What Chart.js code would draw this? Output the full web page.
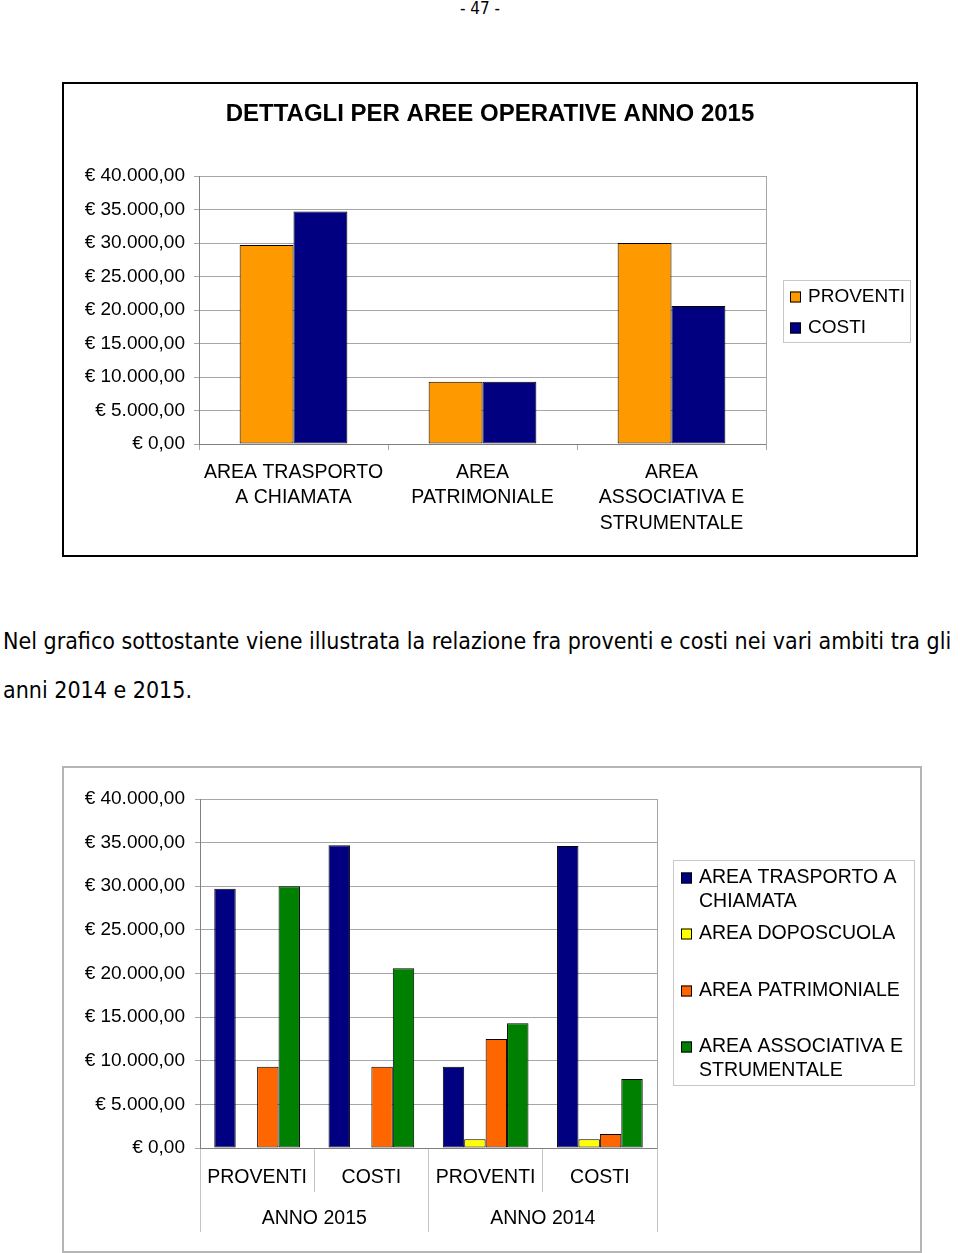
<!DOCTYPE html>
<html>
<head>
<meta charset="utf-8">
<script src="https://cdn.jsdelivr.net/npm/chart.js@4.4.1/dist/chart.umd.min.js"></script>
<style>
    body { margin: 0; width: 960px; height: 1253px; background: #fff; position: relative; overflow: hidden; }
    #pagina { position: absolute; top: -1px; left: 0; width: 960px; text-align: center; font-family: 'DejaVu Sans Condensed', 'DejaVu Sans', sans-serif; font-size: 17px; line-height: 18px; color: #000; }
    #box1 { position: absolute; left: 62px; top: 82px; width: 852px; height: 471px; border: 2px solid #000; }
    #box2 { position: absolute; left: 62px; top: 766px; width: 856px; height: 483px; border: 2px solid #b4b4b4; }
    .riga { position: absolute; left: 3px; white-space: nowrap; font-family: 'DejaVu Sans Condensed', 'DejaVu Sans', sans-serif; font-size: 22px; line-height: 26px; color: #000; }
</style>
</head>
<body>
<div id="pagina">- 47 -</div>

<div id="box1"><canvas id="grafico-aree"></canvas></div>

<div class="riga" id="riga1" style="top:628px">Nel grafico sottostante viene illustrata la relazione fra proventi e costi nei vari ambiti tra gli</div>
<div class="riga" id="riga2" style="top:677px">anni 2014 e 2015.</div>

<div id="box2"><canvas id="grafico-anni"></canvas></div>

<script>
// dati grafico 1
const aree = [['AREA TRASPORTO', 'A CHIAMATA'], ['AREA', 'PATRIMONIALE'], ['AREA', 'ASSOCIATIVA E', 'STRUMENTALE']]
const proventi2015 = [29700, 9300, 30000]
const costi2015 = [34700, 9300, 20600]

// dati grafico 2
const voci = ['PROVENTI', 'COSTI', 'PROVENTI', 'COSTI']
const anni = ['ANNO 2015', 'ANNO 2014']
const trasporto = [29700, 34700, 9300, 34600]
const doposcuola = [null, null, 1000, 1000]
const patrimoniale = [9300, 9300, 12500, 1600]
const associativa = [30000, 20600, 14300, 7900]

const yMax = 40000
const yStep = 5000

Chart.defaults.font.family = "'Liberation Sans', Arial, sans-serif"
Chart.defaults.font.size = 19
Chart.defaults.color = '#000'

function euro(v) {
    const parti = Number(v).toFixed(2).split('.')
    const intero = parti[0].replace(/\B(?=(\d{3})+(?!\d))/g, '.')
    return '€ ' + intero + ',' + parti[1]
}

function spezza(ctx, testo, larghezza) {
    const parole = testo.split(' ')
    const righe = []
    let corrente = ''
    parole.forEach(function (p) {
        const prova = corrente ? corrente + ' ' + p : p
        if (ctx.measureText(prova).width > larghezza && corrente) {
            righe.push(corrente)
            corrente = p
        } else {
            corrente = prova
        }
    })
    righe.push(corrente)
    return righe
}

// legenda disegnata dentro un riquadro grigio
const legendaBox = {
    id: 'legendaBox',
    afterDraw(chart, args, opts) {
        const ctx = chart.ctx
        ctx.save()
        ctx.strokeStyle = '#c8c8c8'
        ctx.lineWidth = 1
        ctx.strokeRect(opts.x + 0.5, opts.y + 0.5, opts.w, opts.h)
        ctx.font = opts.fontSize + "px 'Liberation Sans', Arial, sans-serif"
        ctx.textBaseline = 'middle'
        ctx.textAlign = 'left'
        chart.data.datasets.forEach(function (ds, i) {
            const y0 = opts.rows[i]
            const righe = spezza(ctx, ds.label, opts.wrap)
            ctx.fillStyle = ds.backgroundColor
            ctx.fillRect(opts.markerX, y0 - 5, 11, 11)
            ctx.strokeStyle = '#000'
            ctx.strokeRect(opts.markerX + 0.5, y0 - 4.5, 10, 10)
            ctx.fillStyle = '#000'
            righe.forEach(function (r, j) {
                ctx.fillText(r, opts.textX, y0 + j * opts.lineHeight)
            })
        })
        ctx.restore()
    }
}

new Chart(document.getElementById('grafico-aree'), {
    type: 'bar',
    data: {
        labels: aree,
        datasets: [
            {
                label: 'PROVENTI',
                data: proventi2015,
                backgroundColor: '#FF9900',
                borderColor: '#000',
                borderWidth: 1,
                borderSkipped: false
            },
            {
                label: 'COSTI',
                data: costi2015,
                backgroundColor: '#000080',
                borderColor: '#000',
                borderWidth: 1,
                borderSkipped: false
            }
        ]
    },
    options: {
        responsive: true,
        maintainAspectRatio: false,
        animation: false,
        categoryPercentage: 0.57,
        barPercentage: 1,
        layout: { padding: 0 },
        plugins: {
            legend: { display: false },
            tooltip: { enabled: false },
            title: {
                display: true,
                text: 'DETTAGLI PER AREE OPERATIVE ANNO 2015',
                color: '#000',
                font: { size: 24, weight: 'bold', lineHeight: 1.2 },
                padding: { top: 15.6, bottom: 47.6 }
            },
            legendaBox: { x: 719, y: 196, w: 127, h: 62, markerX: 726, textX: 744, rows: [212.5, 243.5], lineHeight: 24, wrap: 200, fontSize: 19 }
        },
        scales: {
            x: {
                offset: true,
                grid: { offset: true, drawOnChartArea: false, tickLength: 6, color: '#a6a6a6' },
                border: { color: '#808080' },
                ticks: { padding: 9.75, maxRotation: 0, autoSkip: false, font: { size: 19.5, lineHeight: 1.31 } },
                afterFit: function (scale) { scale.height = 111 }
            },
            y: {
                min: 0,
                max: yMax,
                ticks: { stepSize: yStep, padding: 9, callback: euro },
                grid: { color: '#a6a6a6', tickLength: 5 },
                border: { color: '#808080' },
                afterFit: function (scale) { scale.width = 135 }
            },
            y2: {
                position: 'right',
                ticks: { display: false },
                grid: { display: false },
                border: { color: '#a6a6a6' },
                afterFit: function (scale) { scale.width = 150 }
            }
        }
    },
    plugins: [legendaBox]
});

new Chart(document.getElementById('grafico-anni'), {
    type: 'bar',
    data: {
        labels: voci,
        datasets: [
            {
                label: 'AREA TRASPORTO A CHIAMATA',
                data: trasporto,
                backgroundColor: '#000080',
                borderColor: '#000',
                borderWidth: 1,
                borderSkipped: false,
                xAxisID: 'x'
            },
            {
                label: 'AREA DOPOSCUOLA',
                data: doposcuola,
                backgroundColor: '#FFFF00',
                borderColor: '#000',
                borderWidth: 1,
                borderSkipped: false,
                xAxisID: 'x'
            },
            {
                label: 'AREA PATRIMONIALE',
                data: patrimoniale,
                backgroundColor: '#FF6600',
                borderColor: '#000',
                borderWidth: 1,
                borderSkipped: false,
                xAxisID: 'x'
            },
            {
                label: 'AREA ASSOCIATIVA E STRUMENTALE',
                data: associativa,
                backgroundColor: '#008000',
                borderColor: '#000',
                borderWidth: 1,
                borderSkipped: false,
                xAxisID: 'x'
            }
        ]
    },
    options: {
        responsive: true,
        maintainAspectRatio: false,
        animation: false,
        categoryPercentage: 0.75,
        barPercentage: 1,
        layout: { padding: { top: 31, left: 0, right: 0, bottom: 0 } },
        plugins: {
            legend: { display: false },
            tooltip: { enabled: false },
            legendaBox: { x: 609, y: 92, w: 241, h: 225, markerX: 617, textX: 635, rows: [109.5, 165.5, 222.5, 278.5], lineHeight: 24, wrap: 212, fontSize: 19.5 }
        },
        scales: {
            x: {
                offset: true,
                grid: { offset: true, drawOnChartArea: false, tickLength: 44, color: '#c4c4c4' },
                border: { color: '#808080' },
                ticks: { padding: -25.3, maxRotation: 0, autoSkip: false, font: { size: 19.5, lineHeight: 1.1 } },
                afterFit: function (scale) { scale.height = 44 }
            },
            x2: {
                type: 'category',
                labels: anni,
                position: 'bottom',
                weight: 1,
                offset: true,
                grid: { offset: true, drawOnChartArea: false, tickLength: 40, color: '#c4c4c4' },
                border: { display: false },
                ticks: { padding: -24.3, maxRotation: 0, autoSkip: false, font: { size: 19.5, lineHeight: 1.1 } },
                afterFit: function (scale) { scale.height = 59 }
            },
            y: {
                min: 0,
                max: yMax,
                ticks: { stepSize: yStep, padding: 10, callback: euro },
                grid: { color: '#a6a6a6', tickLength: 5 },
                border: { color: '#808080' },
                afterFit: function (scale) { scale.width = 136 }
            },
            y2: {
                position: 'right',
                ticks: { display: false },
                grid: { display: false },
                border: { color: '#a6a6a6' },
                afterFit: function (scale) { scale.width = 263 }
            }
        }
    },
    plugins: [legendaBox]
});

// adatta il testo del paragrafo alla larghezza della pagina
const riga1 = document.getElementById('riga1')
const riga2 = document.getElementById('riga2')
let dim = 20
riga1.style.fontSize = dim + 'px'
while (riga1.offsetWidth < 954 && dim < 28) {
    dim += 0.25
    riga1.style.fontSize = dim + 'px'
}
if (riga1.offsetWidth > 954) {
    dim -= 0.25
    riga1.style.fontSize = dim + 'px'
}
riga2.style.fontSize = dim + 'px'
</script>
</body>
</html>
